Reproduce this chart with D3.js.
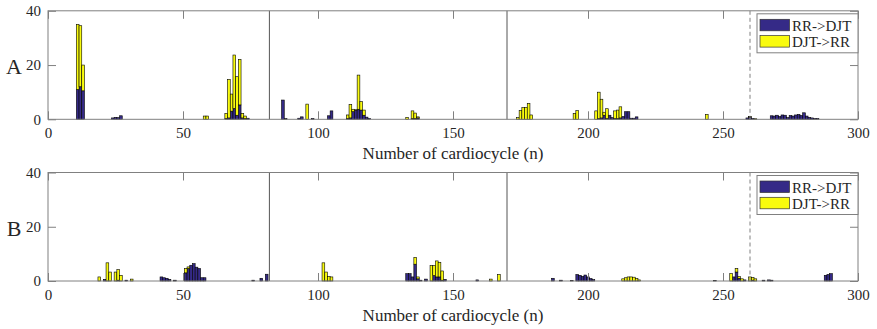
<!DOCTYPE html>
<html>
<head>
<meta charset="utf-8">
<script src="https://cdn.jsdelivr.net/npm/d3@7"></script>
<style>
  html, body { margin: 0; padding: 0; background: #ffffff; }
  svg { display: block; }
  text { font-family: "Liberation Serif", "Times New Roman", serif; fill: #262626; }
</style>
</head>
<body>
<svg id="chart" width="877" height="329"></svg>
<script>
// ---------------- data ----------------
const xTicks = [0, 50, 100, 150, 200, 250, 300];
const yTicks = [0, 20, 40];
const seriesNames = ["RR->DJT", "DJT->RR"];
const panelLabels = ["A", "B"];
const axisTitle = "Number of cardiocycle (n)";
const solidMarkers = [82, 170];
const dashedMarkers = [260];

// Panel A
const cyclesA = [11,12,13,24,25,26,27,58,59,66,67,68,69,70,71,72,73,74,87,88,93,94,96,98,104,105,
  111,112,113,114,115,116,117,118,119,133,135,136,137,174,175,176,177,178,179,195,196,
  203,204,205,206,207,208,209,210,211,212,213,214,215,216,217,218,244,259,260,261,262,
  268,269,270,271,272,273,274,275,276,277,278,279,280,281,282,283,284,285];
const rrDjtA = [11,12,10.5,0.5,0.7,0.6,1.3,0,0,0.3,0.5,3.0,4.0,1.5,5.3,0.5,0.3,0.4,7.1,0.3,0.4,0.9,0,0.3,1.3,3.1,
  0.3,0.5,2.8,3.4,3.7,3.4,1.5,0.8,0.3,0,0.3,0.3,0.5,0,0,0,0,0,0,0,0,
  0,0.3,0.5,1.5,0.3,1.5,0.6,0.3,0.3,0.5,1.0,2.8,2.8,0.4,0.4,0.9,0,0.5,0.8,0.3,0,
  1.3,1.2,1.5,1.0,1.6,1.5,0.6,1.4,1.2,1.6,1.8,1.4,2.4,1.2,0.7,0.5,0.3,0.3];
const djtRrA = [24,22.5,9.5,0,0,0,0,1.2,1.2,1.9,14.2,6.3,19.7,14.2,16.8,1.7,0.9,0,0,0,0,0,5.6,0,0,0,
  1.3,5.0,0.9,0.1,12.6,3.1,1.9,0,0,0.7,2.8,2.0,0.4,0.6,3.2,4.3,4.4,5.9,1.6,2.2,3.2,
  3.1,9.7,6.9,1.1,3.6,0,0,2.8,3.1,4.1,0,0,0,0,0,0,1.8,0,0.2,0,0.2,
  0,0,0,0,0,0,0,0,0,0,0,0,0,0,0,0,0,0];

// Panel B
const cyclesB = [19,21,22,23,25,26,27,29,31,42,43,44,45,47,51,52,53,54,55,56,57,58,76,79,81,
  102,103,104,105,133,134,135,136,137,138,140,142,143,144,145,146,147,159,164,167,
  187,190,194,196,197,198,199,200,201,202,213,214,215,216,217,218,219,247,
  253,254,255,256,257,258,260,261,262,265,267,268,288,289,290];
const rrDjtB = [0,0.6,0,0,0,0.3,0,0.3,0,1.5,1.2,1.0,0.6,0.3,3.0,4.6,5.8,6.4,5.1,4.6,1.2,1.2,0.3,1.0,2.5,
  0,0,0,0,2.7,2.7,1.5,6.2,0.8,0.3,0.7,0,2.0,1.5,1.5,0.3,0.6,0.4,0,0,
  1.0,0.3,0.2,2.4,2.1,1.7,2.2,1.5,0.9,0.5,0,0,0,0,0,0,0,0.2,
  0,1.5,3.3,1.0,0,0.4,0,0.3,0,0.3,0.4,0.3,2.1,2.4,2.7];
const djtRrB = [1.5,0,6.7,3.3,3.3,3.9,2.1,0,0.7,0,0,0,0,0,1.6,0.6,0,0,0,0,0,0,0,0,0,
  6.7,3.3,1.7,1.5,0,0,0,2.5,0.7,0,0,5.7,3.7,5.9,5.4,3.4,0,0,0.7,2.4,
  0,0,0,0,0,0,0,0,0,0,0.8,1.2,1.5,1.5,1.4,1.0,0.4,0,
  2.7,0,1.3,0.6,0.8,0,1.5,1.0,0.8,0,0,0,0,0,0];

// ---------------- drawing ----------------
const colors = ["#352A87", "#F9FB0E"];
const svg = d3.select("#chart");
const left = 48, right = 858, plotH = 108.5;
const x = d3.scaleLinear().domain([0, 300]).range([left, right]);

function drawPanel(top, cycles, s1, s2, label) {
  const bottom = top + plotH;
  const y = d3.scaleLinear().domain([0, 40]).range([bottom, top]);
  const g = svg.append("g");

  const rows = cycles.map((c, i) => ({ c: c, a: s1[i], b: s2[i] }));
  const stacked = d3.stack().keys(["a", "b"])(rows);
  const bw = x(1) - x(0);

  stacked.forEach((layer, k) => {
    g.append("g").selectAll("rect")
      .data(layer.filter(d => d[1] - d[0] > 0))
      .join("rect")
      .attr("x", d => x(d.data.c) - bw / 2)
      .attr("width", bw)
      .attr("y", d => y(d[1]))
      .attr("height", d => y(d[0]) - y(d[1]))
      .attr("fill", colors[k])
      .attr("stroke", "#000")
      .attr("stroke-width", 0.6);
  });

  // marker lines
  g.selectAll("line.solid").data(solidMarkers).join("line")
    .attr("x1", d => x(d)).attr("x2", d => x(d))
    .attr("y1", top).attr("y2", bottom)
    .attr("stroke", "#555").attr("stroke-width", 1);
  g.selectAll("line.dash").data(dashedMarkers).join("line")
    .attr("x1", d => x(d)).attr("x2", d => x(d))
    .attr("y1", top).attr("y2", bottom)
    .attr("stroke", "#808080").attr("stroke-width", 1)
    .attr("stroke-dasharray", "4,3");

  // axes
  const styleAxis = sel => {
    sel.select(".domain").remove();
    sel.selectAll(".tick line").attr("stroke", "#808080");
    sel.selectAll(".tick text").style("font-family", "'Liberation Serif', serif")
      .style("font-size", "15px").attr("fill", "#262626");
  };
  g.append("g").attr("transform", `translate(0,${bottom})`)
    .call(d3.axisBottom(x).tickValues(xTicks).tickSizeInner(-8).tickSizeOuter(0).tickPadding(8))
    .call(styleAxis);
  g.append("g").attr("transform", `translate(0,${top})`)
    .call(d3.axisTop(x).tickValues(xTicks).tickSizeInner(-8).tickSizeOuter(0).tickFormat(""))
    .call(styleAxis);
  g.append("g").attr("transform", `translate(${left},0)`)
    .call(d3.axisLeft(y).tickValues(yTicks).tickSizeInner(-8).tickSizeOuter(0).tickPadding(7))
    .call(styleAxis);
  g.append("g").attr("transform", `translate(${right},0)`)
    .call(d3.axisRight(y).tickValues(yTicks).tickSizeInner(-8).tickSizeOuter(0).tickFormat(""))
    .call(styleAxis);

  // box
  g.append("rect").attr("x", left).attr("y", top)
    .attr("width", right - left).attr("height", plotH)
    .attr("fill", "none").attr("stroke", "#808080").attr("stroke-width", 1);

  // title
  g.append("text").attr("x", (left + right) / 2).attr("y", bottom + 40)
    .attr("text-anchor", "middle").style("font-size", "17px").text(axisTitle);

  // panel label
  g.append("text").attr("x", 14).attr("y", top + 63)
    .attr("text-anchor", "middle").style("font-size", "22px").text(label);

  // legend
  const lg = g.append("g");
  lg.append("rect").attr("x", 757).attr("y", top + 3)
    .attr("width", right - 757).attr("height", 39)
    .attr("fill", "#fff").attr("stroke", "#808080").attr("stroke-width", 1);
  seriesNames.forEach((name, i) => {
    lg.append("rect").attr("x", 760).attr("y", top + 8.5 + i * 16.3)
      .attr("width", 29.5).attr("height", 11.5)
      .attr("fill", colors[i]).attr("stroke", "#333").attr("stroke-width", 0.7);
    lg.append("text").attr("x", 792).attr("y", top + 20 + i * 16.3)
      .style("font-size", "15px").text(name);
  });
}

drawPanel(10.8, cyclesA, rrDjtA, djtRrA, panelLabels[0]);
drawPanel(172.5, cyclesB, rrDjtB, djtRrB, panelLabels[1]);
</script>
</body>
</html>
